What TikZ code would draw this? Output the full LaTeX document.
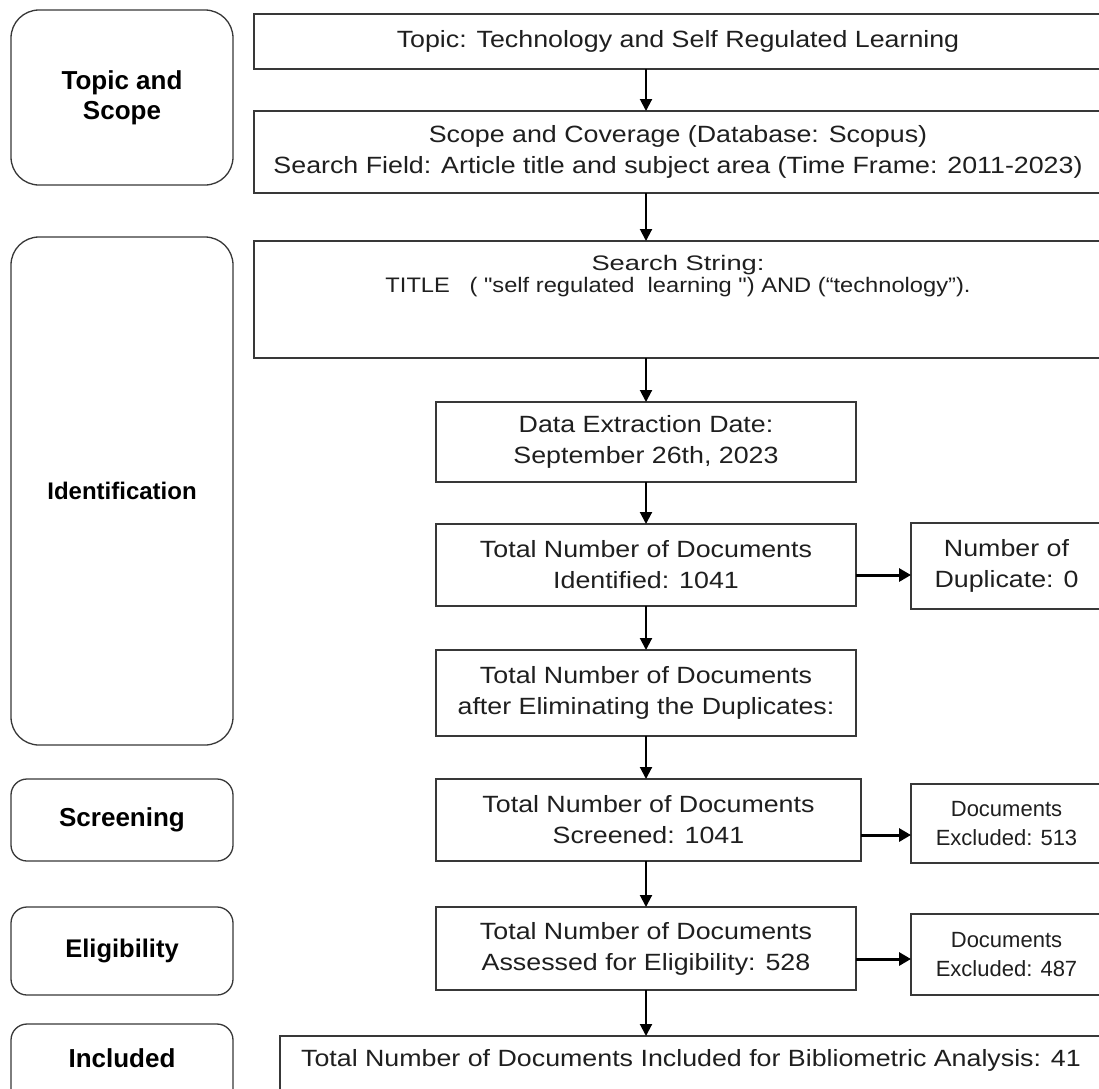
\documentclass[tikz,border=0pt]{standalone}
\usepackage{graphicx}
\usepackage{fontspec}
\setmainfont{Liberation Sans}
\newfontfamily\wfont[FakeStretch=1.14]{Liberation Sans}
\newfontfamily\sfontx[FakeStretch=1.3]{Liberation Sans}
\usetikzlibrary{arrows.meta}
\begin{document}
\begin{tikzpicture}[x=1pt,y=-1pt,
  box/.style={draw=black!78, line width=1.3pt, inner sep=0pt, outer sep=0pt, align=center, text=black!88, font=\wfont\fontsize{23.5}{31}\selectfont},
  lblfont/.style={font=\bfseries\fontsize{26}{30}\selectfont},
  lbl/.style={draw=black!78, line width=1.3pt, rounded corners=28pt, minimum width=222pt, inner sep=0pt, outer sep=0pt, align=center, lblfont},
  smalllbl/.style={lbl, rounded corners=16pt},
  exfont/.style={font=\fontsize{22}{28.5}\selectfont},
  arr/.style={-{Triangle[length=12pt,width=12pt]}, line width=2pt},
  harr/.style={-{Triangle[length=12pt,width=13pt]}, line width=3pt},
]
\fill[white] (0,0) rectangle (1099,1088);
\useasboundingbox (0,0) rectangle (1099,1088);

% left stage labels
\node[lbl, minimum height=175pt] (lts) at (122,97.5) {Topic and\\Scope};
\node[lbl, minimum height=508pt, font=\bfseries\fontsize{24}{30}\selectfont] (lid) at (122,491) {Identification};
\node[smalllbl, minimum height=82pt] (lsc) at (122,820) {Screening};
\node[smalllbl, minimum height=88pt, font=\bfseries\fontsize{25.5}{30}\selectfont] (lel) at (122,951) {Eligibility};
\node[smalllbl, minimum height=86pt, label={[lblfont, inner sep=0pt, yshift=9pt]center:Included}] (lin) at (122,1067) {};

% right column
\node[box, minimum width=848pt, minimum height=55pt] (topic) at (678,41.5) {Topic: Technology and Self Regulated Learning};
\node[box, minimum width=848pt, minimum height=82pt] (scope) at (678,152) {Scope and Coverage (Database: Scopus)\\Search Field: Article title and subject area (Time Frame: 2011-2023)};
\node[box, minimum width=848pt, minimum height=117pt, label={[anchor=north, yshift=-14pt, inner sep=0pt, align=center, text=black!88, font=\sfontx\fontsize{21}{22.5}\selectfont]north:{Search String:\\\scalebox{0.867}[1]{TITLE \ \ ( "self regulated \ learning ") AND (“technology”).}}}] (search) at (678,299.5) {};
\node[box, minimum width=420pt, minimum height=80pt] (data) at (646,442) {Data Extraction Date:\\September 26th, 2023};
\node[box, minimum width=420pt, minimum height=82pt] (ident) at (646,565) {Total Number of Documents\\Identified: 1041};
\node[box, minimum width=191pt, minimum height=86pt] (dup) at (1006.5,566) {Number of\\Duplicate: 0};
\node[box, minimum width=420pt, minimum height=86pt] (elim) at (646,693) {Total Number of Documents\\after Eliminating the Duplicates:};
\node[box, minimum width=425pt, minimum height=82pt] (screen) at (648.5,820) {Total Number of Documents\\Screened: 1041};
\node[box, exfont, minimum width=191pt, minimum height=79pt] (ex1) at (1006.5,823.5) {Documents\\Excluded: 513};
\node[box, minimum width=420pt, minimum height=83pt] (elig) at (646,948.5) {Total Number of Documents\\Assessed for Eligibility: 528};
\node[box, exfont, minimum width=191pt, minimum height=81pt] (ex2) at (1006.5,954.5) {Documents\\Excluded: 487};
\node[box, minimum width=822pt, minimum height=74pt, label={[inner sep=0pt, yshift=13pt, text=black!88, font=\wfont\fontsize{23.5}{31}\selectfont]center:Total Number of Documents Included for Bibliometric Analysis: 41}] (incl) at (691,1073) {};

% connectors
\draw[arr] (topic.south -| data.north) -- (scope.north -| data.north);
\draw[arr] (scope.south -| data.north) -- (search.north -| data.north);
\draw[arr] (search.south -| data.north) -- (data.north);
\draw[arr] (data.south) -- (ident.north);
\draw[harr] ([yshift=-10pt]ident.east) -- ([yshift=-10pt]ident.east -| dup.west);
\draw[arr] (ident.south) -- (elim.north);
\draw[arr] (elim.south) -- (elim.south |- screen.north);
\draw[arr] (elim.south |- screen.south) -- (elig.north);
\draw[harr] ([yshift=-15pt]screen.east) -- ([yshift=-15pt]screen.east -| ex1.west);
\draw[harr] ([yshift=-10.5pt]elig.east) -- ([yshift=-10.5pt]elig.east -| ex2.west);
\draw[arr] (elig.south) -- (elig.south |- incl.north);
\end{tikzpicture}
\end{document}
